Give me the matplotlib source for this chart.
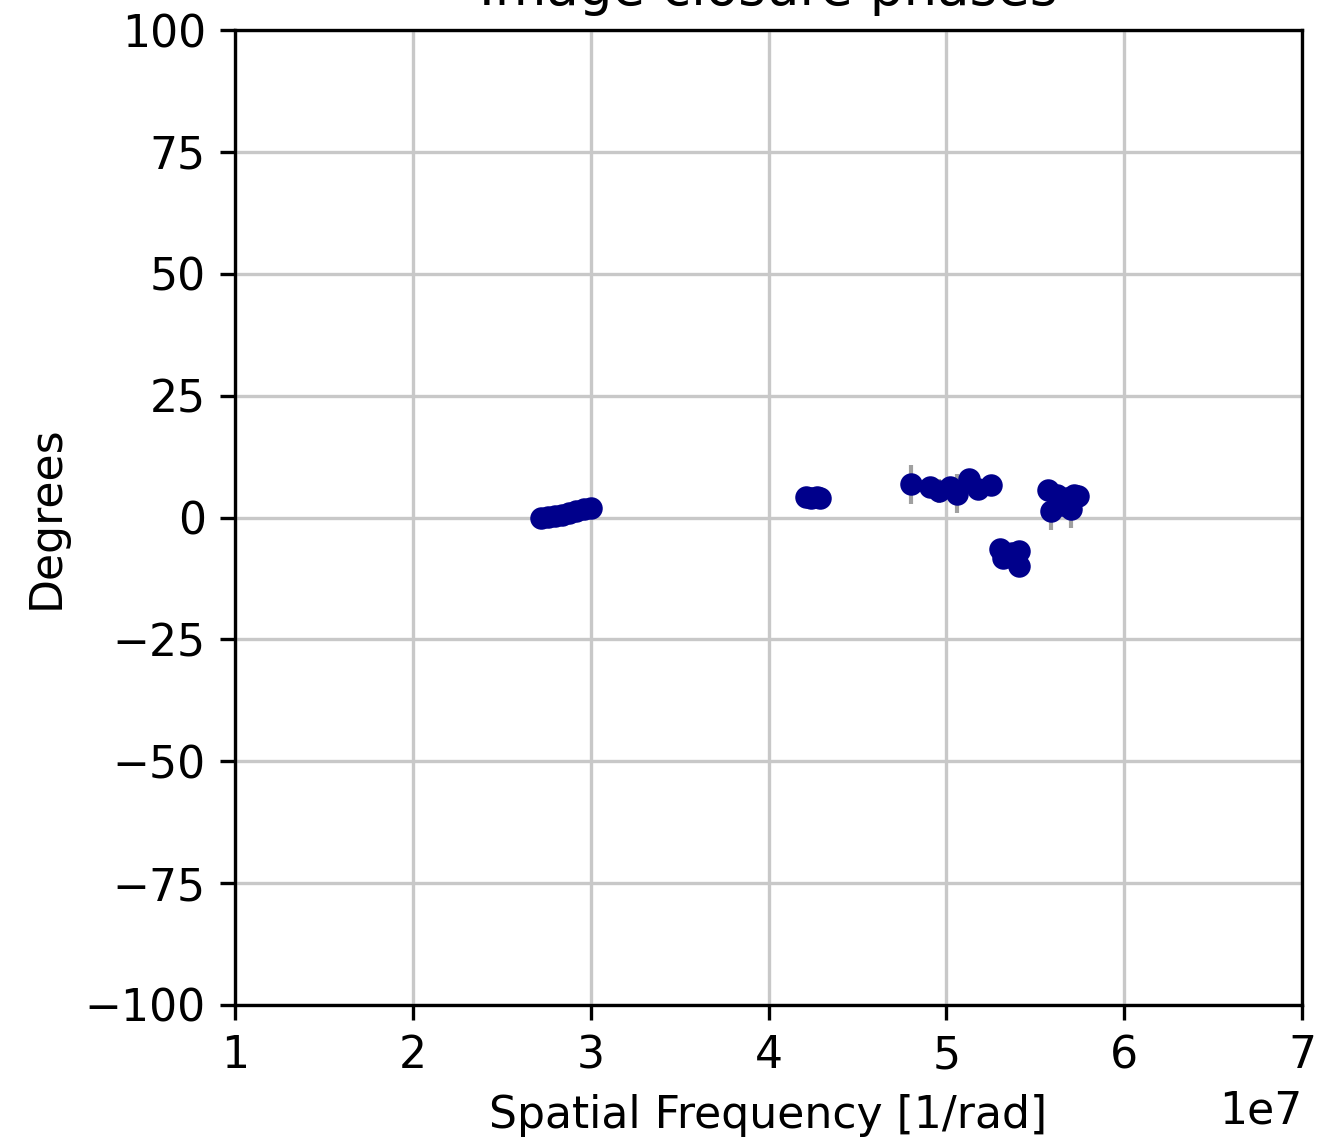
import matplotlib
matplotlib.use("Agg")
import matplotlib.pyplot as plt
import numpy as np

# Closure phases vs. longest-baseline spatial frequency (units of 1e7 / rad)
uvdist = [2.72, 2.76, 2.80, 2.84, 2.88, 2.92, 2.96, 3.00,
          4.21, 4.24, 4.27, 4.29,
          4.80, 4.91, 4.96, 5.02, 5.06, 5.13, 5.18, 5.25,
          5.30, 5.32, 5.35, 5.37, 5.39, 5.41, 5.41,
          5.57, 5.59, 5.62, 5.65, 5.68, 5.70, 5.72, 5.74]
cphase = [0.0, 0.1, 0.3, 0.6, 1.0, 1.3, 1.7, 2.0,
          4.2, 4.0, 4.3, 4.0,
          6.8, 6.2, 5.4, 6.2, 4.9, 7.8, 5.8, 6.6,
          -6.4, -8.4, -7.8, -7.2, -8.8, -10.0, -6.9,
          5.6, 1.4, 4.6, 2.6, 4.1, 1.8, 4.7, 4.4]
cphase_err = [1.0, 1.0, 1.2, 1.5, 1.0, 1.2, 1.0, 1.0,
              1.0, 1.0, 1.0, 1.0,
              4.0, 2.0, 2.5, 2.0, 4.0, 2.0, 2.0, 2.0,
              2.0, 2.0, 2.0, 2.0, 2.0, 2.0, 2.0,
              2.0, 4.0, 2.0, 2.0, 2.0, 4.0, 2.0, 2.0]

fs = 10.6
fig = plt.figure(figsize=(1327 / 300, 1144 / 300), dpi=300)
ax = fig.add_axes([235 / 1327, 1 - 1005 / 1144, (1302 - 235) / 1327, (1005 - 30) / 1144])

ax.errorbar(np.array(uvdist) * 1e7, cphase, yerr=cphase_err, fmt='o',
            color='darkblue', ms=5.4, ecolor='#a0a0a0', elinewidth=1.0,
            zorder=3, markeredgewidth=0)

ax.set_xlim(1e7, 7e7)
ax.set_ylim(-100, 100)
ax.set_yticks([-100, -75, -50, -25, 0, 25, 50, 75, 100])
ax.grid(True, color='#c8c8c8', linewidth=0.8)
ax.set_axisbelow(True)
ax.set_xlabel('Spatial Frequency [1/rad]', fontsize=fs)
ax.set_ylabel('Degrees', fontsize=fs)
ax.set_title('Image closure phases', fontsize=fs * 1.2)
ax.tick_params(labelsize=fs)
ax.xaxis.get_offset_text().set_fontsize(fs)

fig.savefig('out.png', dpi=300)
